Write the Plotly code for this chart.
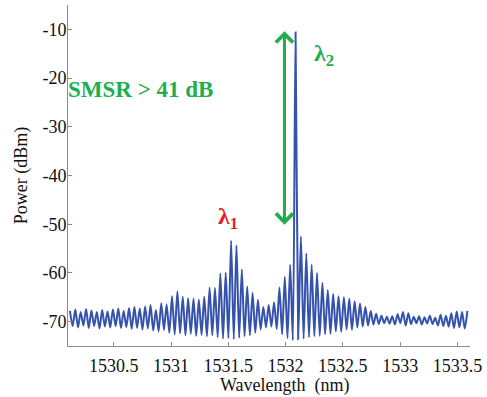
import plotly.graph_objects as go

# Spectrum: one peak value per fringe and one trough value between fringes
wl_start = 1530.117          # nm, first fringe peak
half_step = 0.02345          # nm, peak-to-trough spacing
peak_dbm = [
    -67.8, -67.5, -68.0, -67.4, -67.7, -68.0, -67.6, -67.9, -67.5, -67.3,
    -67.8, -67.2, -67.0, -67.3, -66.9, -66.6, -67.6, -66.2, -66.5, -64.8,
    -63.8, -64.9, -65.2, -65.3, -65.5, -64.9, -63.0, -63.1, -60.1, -59.9,
    -53.4, -54.3, -59.3, -62.8, -64.1, -65.5, -67.0, -66.6, -66.0, -63.0,
    -60.8, -58.3, -10.6, -52.5, -56.0, -58.3, -60.0, -62.0, -63.5, -64.3,
    -64.8, -65.0, -65.3, -65.8, -66.3, -67.0, -67.8, -68.4, -68.8, -69.0,
    -68.9, -68.5, -68.0, -68.3, -69.0, -68.9, -69.1, -68.8, -69.2, -68.6,
    -68.8, -68.3, -67.9, -68.0, -67.8,
]
trough_dbm = [
    -70.9, -71.2, -70.8, -71.3, -70.9, -71.4, -71.0, -71.2, -70.9, -71.3,
    -71.1, -71.5, -71.3, -71.6, -71.4, -71.8, -72.0, -71.7, -72.3, -72.6,
    -72.4, -72.8, -72.5, -72.9, -72.7, -73.0, -72.8, -73.2, -73.5, -73.4,
    -73.6, -73.3, -73.0, -72.8, -72.3, -71.6, -71.2, -71.0, -71.5, -72.6,
    -73.4, -73.8, -73.6, -73.5, -73.2, -73.0, -72.9, -72.6, -72.5, -72.0,
    -72.1, -71.6, -71.7, -71.2, -71.0, -70.8, -70.6, -70.5, -70.3, -70.4,
    -70.6, -70.3, -70.8, -70.5, -70.3, -70.6, -70.4, -70.5, -70.8, -70.9,
    -71.0, -71.3, -71.2, -71.4,
]

x_tickvals = [1530.5, 1531, 1531.5, 1532, 1532.5, 1533, 1533.5]
x_ticktext = ["1530.5", "1531", "1531.5", "1532", "1532.5", "1533", "1533.5"]
y_tickvals = [-10, -20, -30, -40, -50, -60, -70]
y_ticktext = ["-10", "-20", "-30", "-40", "-50", "-60", "-70"]
x_title = "Wavelength  (nm)"
y_title = "Power (dBm)"

lambda1_nm, lambda1_label_dbm = 1531.494, -48.7
lambda2_nm, lambda2_label_dbm = 1532.339, -15.3
smsr_arrow_nm, smsr_top_dbm, smsr_bottom_dbm = 1531.99, -10.4, -50.4
smsr_text_nm, smsr_text_dbm = 1530.73, -22.3

power = []
for i, p in enumerate(peak_dbm):
    power.append(p)
    if i < len(trough_dbm):
        power.append(trough_dbm[i])

green = "#1fae4e"
red = "#ec1c24"
blue = "#3552ad"
font_family = "Times New Roman"

fig = go.Figure()
fig.add_trace(go.Scatter(
    x0=wl_start, dx=half_step, y=power, mode="lines",
    line=dict(color=blue, width=2, shape="spline", smoothing=0.7), showlegend=False,
))

fig.add_annotation(
    x=smsr_arrow_nm, y=smsr_top_dbm, ax=smsr_arrow_nm, ay=smsr_bottom_dbm,
    xref="x", yref="y", axref="x", ayref="y", text="",
    showarrow=True, arrowside="end+start", arrowhead=4, arrowsize=1.1,
    arrowwidth=3, arrowcolor=green,
)
fig.add_annotation(
    x=smsr_text_nm, y=smsr_text_dbm, xref="x", yref="y", showarrow=False,
    text="<b>SMSR > 41 dB</b>", font=dict(family=font_family, size=23, color=green),
)
fig.add_annotation(
    x=lambda2_nm, y=lambda2_label_dbm, xref="x", yref="y", showarrow=False,
    text="<b>λ<sub>2</sub></b>", font=dict(family=font_family, size=24, color=green),
)
fig.add_annotation(
    x=lambda1_nm, y=lambda1_label_dbm, xref="x", yref="y", showarrow=False,
    text="<b>λ<sub>1</sub></b>", font=dict(family=font_family, size=24, color=red),
)
# x-axis title, sitting slightly right of centre as in the original
fig.add_annotation(
    x=0.5395, y=-0.1144, xref="paper", yref="paper", showarrow=False,
    xanchor="center", yanchor="middle", text=x_title,
    font=dict(family=font_family, size=18, color="#111"),
)

axis_common = dict(
    showgrid=False, zeroline=False, showline=True, linecolor="#8c8c8c", linewidth=1,
    ticks="inside", ticklen=4, tickcolor="#8c8c8c", mirror=False,
    tickfont=dict(family=font_family, size=18, color="#111"),
)
fig.update_xaxes(
    range=[1530.1, 1533.61], tickvals=x_tickvals, ticktext=x_ticktext,
    ticklabelstandoff=3,
    **axis_common,
)
fig.update_yaxes(
    range=[-75, -5], tickvals=y_tickvals, ticktext=y_ticktext,
    ticklabelstandoff=-3,
    title=dict(text=y_title, font=dict(family=font_family, size=18, color="#111"), standoff=10),
    **axis_common,
)
fig.update_layout(
    width=487, height=397, margin=dict(l=68, r=14, t=5, b=51),
    paper_bgcolor="white", plot_bgcolor="white",
    font=dict(family=font_family),
)
fig.write_html("out.html")
